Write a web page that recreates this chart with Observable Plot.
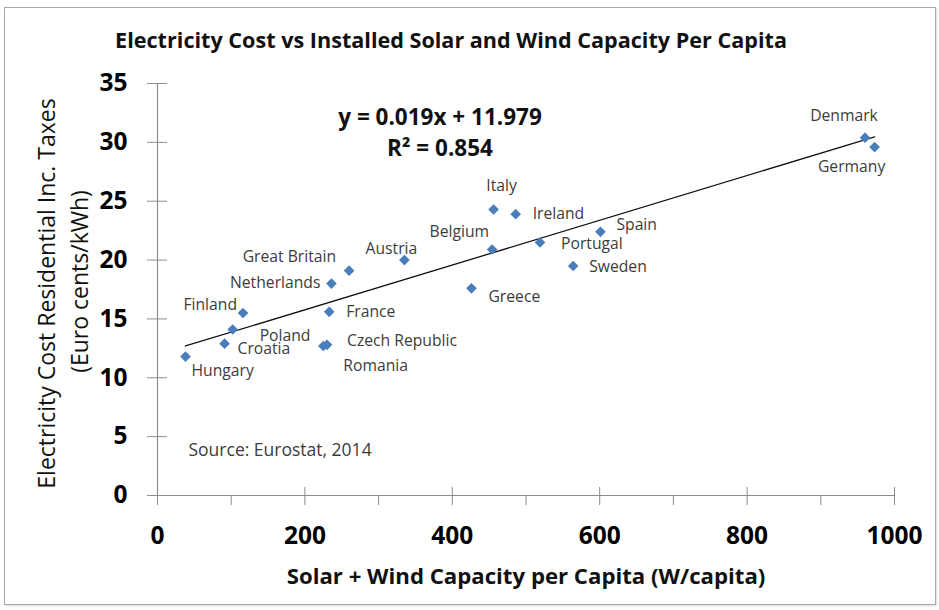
<!DOCTYPE html>
<html>
<head>
<meta charset="utf-8">
<script src="https://cdn.jsdelivr.net/npm/d3@7"></script>
<script src="https://cdn.jsdelivr.net/npm/@observablehq/plot@0.6"></script>
<style>
  body { margin: 0; background: #fff; }
  #wrap { position: relative; width: 939px; height: 610px; overflow: hidden; font-family: "Open Sans", Lato, sans-serif; }
  #frame { position: absolute; left: 4px; top: 7px; width: 932px; height: 598px; border: 1.5px solid #a9a9a9; box-sizing: border-box; box-shadow: 1px 1px 2px rgba(0,0,0,0.15); }
  #title { position: absolute; left: 0; width: 902px; top: 27px; line-height: 26px; text-align: center; font-weight: bold; font-size: 21.6px; color: #111; }
  #chart { position: absolute; left: 0; top: 0; }
</style>
</head>
<body>
<div id="wrap">
  <div id="frame"></div>
  <div id="title"></div>
  <div id="chart"></div>
</div>
<script>
// ---- Data ----
const titleText = "Electricity Cost vs Installed Solar and Wind Capacity Per Capita";
const xAxisTitle = "Solar + Wind Capacity per Capita (W/capita)";
const yAxisTitle = ["Electricity Cost Residential Inc. Taxes", "(Euro cents/kWh)"];
const countries = ["Hungary", "Croatia", "Poland", "Finland", "Romania", "Czech Republic", "France", "Netherlands", "Great Britain", "Austria", "Greece", "Belgium", "Italy", "Ireland", "Portugal", "Sweden", "Spain", "Denmark", "Germany"];
const capacity = [38, 91, 102, 116, 225, 230, 233, 236, 260, 335, 426, 454, 456, 486, 519, 564, 601, 960, 973];
const cost =     [11.8, 12.9, 14.1, 15.5, 12.7, 12.8, 15.6, 18.0, 19.1, 20.0, 17.6, 20.9, 24.3, 23.9, 21.5, 19.5, 22.4, 30.4, 29.6];
const trendCoefficients = [0.019, 11.979]; // slope, intercept
const equationLines = ["y = 0.019x + 11.979", "R\u00B2 = 0.854"];
const sourceNote = "Source: Eurostat, 2014";
const xTicks = [0, 200, 400, 600, 800, 1000];
const xMinorTicks = [100, 300, 500, 700, 900];
const yTicks = [0, 5, 10, 15, 20, 25, 30, 35];

// ---- Label placement (layout only) ----
const labelPlacement = {
  "Hungary":        ["start", 6, 14],
  "Croatia":        ["start", 13, 5],
  "Poland":         ["start", 27, 6],
  "Finland":        ["end", -6, -8],
  "Romania":        ["start", 20, 20],
  "Czech Republic": ["start", 20, -4],
  "France":         ["start", 17, 0],
  "Netherlands":    ["end", -11, -1],
  "Great Britain":  ["end", -13, -14],
  "Austria":        ["middle", -13, -11],
  "Greece":         ["start", 17, 9],
  "Belgium":        ["end", -3, -18],
  "Italy":          ["middle", 8, -23],
  "Ireland":        ["start", 17, 0],
  "Portugal":       ["start", 21, 2],
  "Sweden":         ["start", 16, 1],
  "Spain":          ["start", 16, -7],
  "Denmark":        ["middle", -21, -22],
  "Germany":        ["middle", -23, 20]
};

document.getElementById("title").textContent = titleText;

const data = countries.map((c, i) => ({country: c, cap: capacity[i], cost: cost[i]}));
const trendData = d3.extent(capacity).map(v => ({cap: v, cost: trendCoefficients[0] * v + trendCoefficients[1]}));

const axisColor = "#8c8c8c";
const labelColor = "#3c3c3c";
const font = "'Open Sans', Lato, sans-serif";

const labelMarks = data.map(d => {
  const [anchor, dx, dy] = labelPlacement[d.country];
  return Plot.text([d], {x: "cap", y: "cost", text: "country", textAnchor: anchor, dx, dy,
    fontSize: 15.7, fill: labelColor});
});

const chart = Plot.plot({
  width: 939,
  height: 610,
  marginLeft: 157,
  marginRight: 45,
  marginTop: 83,
  marginBottom: 115,
  style: {fontFamily: font, background: "transparent", overflow: "visible"},
  x: {domain: [0, 1000], label: null},
  y: {domain: [0, 35], label: null},
  marks: [
    Plot.ruleY([0], {stroke: axisColor, strokeWidth: 1.2}),
    Plot.ruleX([0], {stroke: axisColor, strokeWidth: 1.2}),
    Plot.axisX({ticks: xTicks, tickSize: 18, dy: -8, stroke: axisColor, tickFormat: () => "", label: null}),
    Plot.axisX({ticks: xMinorTicks, tickSize: 10, stroke: axisColor, tickFormat: () => "", label: null}),
    Plot.axisX({ticks: xTicks, tickSize: 0, tickPadding: 31, tickFormat: d => String(d), fontSize: 24.5, fontWeight: "bold", fill: "#000", label: null}),
    Plot.axisY({ticks: yTicks, tickSize: 20, dx: 10, stroke: axisColor, tickFormat: () => "", label: null}),
    Plot.axisY({ticks: yTicks, tickSize: 0, tickPadding: 30, tickFormat: d => String(d), fontSize: 24.5, fontWeight: "bold", fill: "#000", label: null}),
    Plot.text([yAxisTitle[0]], {frameAnchor: "left", textAnchor: "middle", rotate: -90, dx: -110, dy: 4, fontSize: 23, fill: "#111"}),
    Plot.text([yAxisTitle[1]], {frameAnchor: "left", textAnchor: "middle", rotate: -90, dx: -77, dy: -8, fontSize: 23, fill: "#111"}),
    Plot.text([xAxisTitle], {frameAnchor: "bottom", dy: 88, fontSize: 22.2, fontWeight: "bold", fill: "#111"}),
    Plot.line(trendData, {x: "cap", y: "cost", stroke: "#111", strokeWidth: 1.3}),
    Plot.dot(data, {x: "cap", y: "cost", symbol: "diamond2", r: 4.8, fill: "#4a7ebb"}),
    ...labelMarks,
    Plot.text([equationLines[0]], {frameAnchor: "top", lineAnchor: "middle", dx: -86, dy: 34, fontSize: 22.5, fontWeight: "bold", fill: "#111"}),
    Plot.text([equationLines[1]], {frameAnchor: "top", lineAnchor: "middle", dx: -86, dy: 65, fontSize: 22.5, fontWeight: "bold", fill: "#111"}),
    Plot.text([sourceNote], {frameAnchor: "bottom-left", dx: 31, dy: -40, textAnchor: "start", fontSize: 17.5, fill: labelColor})
  ]
});
document.getElementById("chart").appendChild(chart);
</script>
</body>
</html>
